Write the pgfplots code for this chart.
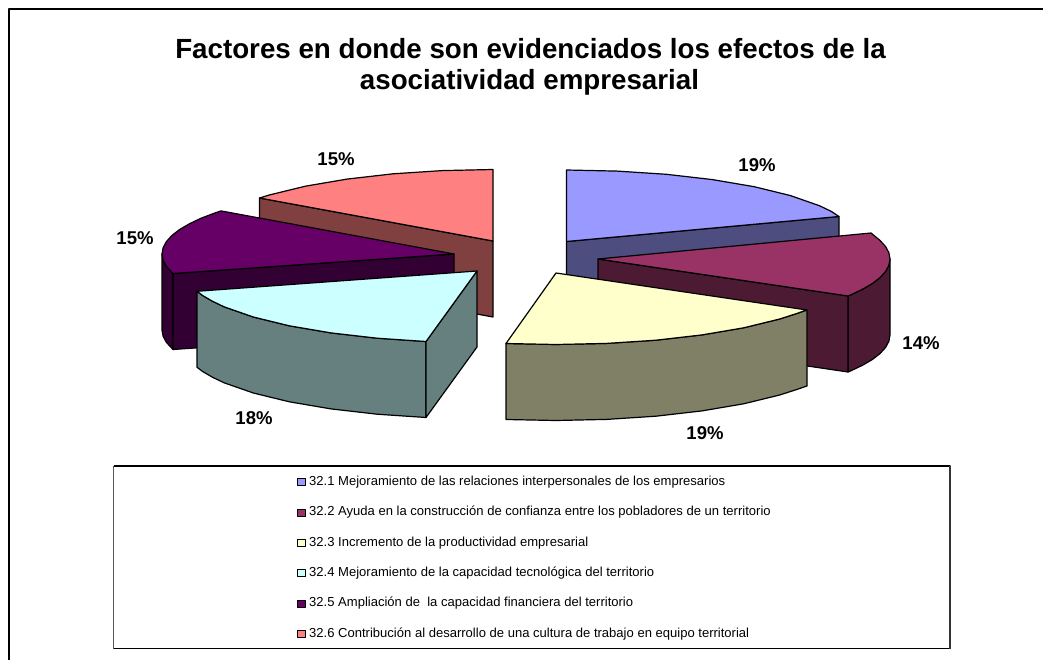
\documentclass[border=0pt]{standalone}
\usepackage{fontspec}
\setmainfont{Liberation Sans}
\usepackage{pgfplots}
\pgfplotsset{compat=1.18}
\definecolor{cA}{HTML}{9999FF}\definecolor{sA}{HTML}{4D4D80}
\definecolor{cB}{HTML}{993366}\definecolor{sB}{HTML}{4D1A33}
\definecolor{cC}{HTML}{FFFFCC}\definecolor{sC}{HTML}{808066}
\definecolor{cD}{HTML}{CCFFFF}\definecolor{sD}{HTML}{668080}
\definecolor{cE}{HTML}{660066}\definecolor{sE}{HTML}{330033}
\definecolor{cF}{HTML}{FF8080}\definecolor{sF}{HTML}{804040}
\begin{document}
\begin{tikzpicture}
\begin{axis}[
  scale only axis, width=782.25pt, height=495pt,
  xmin=0, xmax=1043, ymin=0, ymax=660, y dir=reverse,
  axis lines=none, clip=true,
  every axis plot/.append style={line width=0.9pt,line join=round},
  legend cell align=left,
  legend image code/.code={\draw[#1,draw=black,line width=0.75pt] (0pt,-2.7pt) rectangle (5.6pt,2.7pt);},
  legend style={at={(axis cs:297,476)},anchor=north west,draw=none,fill=none,inner sep=0pt,
    row sep=13.75pt,font=\fontsize{9.78pt}{11pt}\selectfont,
    nodes={inner sep=0pt,text height=7pt,text depth=2pt},/tikz/column 1/.style={column sep=2.6pt}},
]
\path (rel axis cs:0,0) rectangle (rel axis cs:1,1);
% outer frame
\addplot[forget plot,black,line width=1.5pt] coordinates {(9,660) (9,9) (1043,9)};
% legend box
\addplot[forget plot,black,line width=0.8pt] coordinates {(113.5,466) (950,466) (950,648.5) (113.5,648.5) (113.5,466)};
\addplot[forget plot,gray!70!black,line width=1.1pt] coordinates {(113.5,466) (113.5,648.5)};
\addplot[forget plot,gray!40!black,line width=1.1pt] coordinates {(950,466) (950,648.5)};
% 32.6 side
\addplot[forget plot,fill=sF,draw=black] coordinates {(259.5,198) (493,241) (493,317) (259.5,274)} --cycle;
% 32.1 side
\addplot[forget plot,fill=sA,draw=black] coordinates {(566.5,241.5) (839,216.5) (839,292.5) (566.5,317.5)} --cycle;
% 32.5 sides
\addplot[forget plot,fill=sE,draw=black] coordinates {(173,273.5) (166.4,266.4) (163.1,260.2) (162,254) (162,330) (163.1,336.2) (166.4,342.4) (173,349.5)} --cycle;
\addplot[forget plot,fill=sE,draw=black] coordinates {(173,273.5) (454,254) (454,330) (173,349.5)} --cycle;
% 32.2 sides
\addplot[forget plot,fill=sB,draw=black] coordinates {(890,259) (888.9,265.2) (885.6,271.4) (880.1,277.5) (872.4,283.5) (862.6,289.2) (850.9,294.8) (848,296) (848,372) (850.9,370.8) (862.6,365.2) (872.4,359.5) (880.1,353.5) (885.6,347.4) (888.9,341.2) (890,335)} --cycle;
\addplot[forget plot,fill=sB,draw=black] coordinates {(598,259) (848,296) (848,372) (598,335)} --cycle;
% 32.4 sides
\addplot[forget plot,fill=sD,draw=black] coordinates {(426,341.5) (377.1,338.2) (331,332.9) (289.3,325.8) (253.3,317) (224.1,306.8) (212.4,301.2) (202.6,295.5) (197,291.3) (197,367.3) (202.6,371.5) (212.4,377.2) (224.1,382.8) (253.3,393) (289.3,401.8) (331,408.9) (377.1,414.2) (426,417.5)} --cycle;
\addplot[forget plot,fill=sD,draw=black] coordinates {(426,341.5) (477,271) (477,347) (426,417.5)} --cycle;
% 32.3 side
\addplot[forget plot,fill=sC,draw=black] coordinates {(807,310) (795.2,314) (779.7,319) (743.7,327.8) (702,334.9) (655.9,340.2) (606.7,343.4) (556,344.5) (506,343.5) (506,419.5) (556,420.5) (606.7,419.4) (655.9,416.2) (702,410.9) (743.7,403.8) (779.7,395) (795.2,390) (807,386)} --cycle;
% top faces
\addplot[fill=cA,draw=black] coordinates {(566.5,241.5) (566.5,170) (617.2,171.1) (666.4,174.3) (712.5,179.6) (754.2,186.7) (790.2,195.5) (819.4,205.7) (831.1,211.3) (839,216.5)} --cycle;
\addlegendentry{32.1 Mejoramiento de las relaciones interpersonales de los empresarios}
\addplot[fill=cB,draw=black] coordinates {(598,259) (871,233) (880.1,240.5) (885.6,246.6) (888.9,252.8) (890,259) (888.9,265.2) (885.6,271.4) (880.1,277.5) (872.4,283.5) (862.6,289.2) (850.9,294.8) (848,296)} --cycle;
\addlegendentry{32.2 Ayuda en la construcción de confianza entre los pobladores de un territorio}
\addplot[fill=cC,draw=black] coordinates {(556,273) (807,310) (795.2,314) (779.7,319) (743.7,327.8) (702,334.9) (655.9,340.2) (606.7,343.4) (556,344.5) (506,343.5)} --cycle;
\addlegendentry{32.3 Incremento de la productividad empresarial}
\addplot[fill=cD,draw=black] coordinates {(477,271) (426,341.5) (377.1,338.2) (331,332.9) (289.3,325.8) (253.3,317) (224.1,306.8) (212.4,301.2) (202.6,295.5) (197,291.3)} --cycle;
\addlegendentry{32.4 Mejoramiento de la capacidad tecnológica del territorio}
\addplot[fill=cE,draw=black] coordinates {(454,254) (173,273.5) (166.4,266.4) (163.1,260.2) (162,254) (163.1,247.8) (166.4,241.6) (171.9,235.5) (179.6,229.5) (189.4,223.8) (201.1,218.2) (214.8,213) (221,210.9)} --cycle;
\addlegendentry{32.5 Ampliación de\ \ la capacidad financiera del territorio}
\addplot[fill=cF,draw=black] coordinates {(493,241) (259.5,198) (269.3,195) (305.3,186.2) (347,179.1) (393.1,173.8) (442.3,170.6) (493,169.5)} --cycle;
\addlegendentry{32.6 Contribución al desarrollo de una cultura de trabajo en equipo territorial}
% title and labels
\node[font=\fontsize{20.8pt}{24pt}\selectfont\bfseries,anchor=center] at (axis cs:530.5,49) {Factores en donde son evidenciados los efectos de la};
\node[font=\fontsize{20.8pt}{24pt}\selectfont\bfseries,anchor=center] at (axis cs:529.5,82.5) {asociatividad empresarial};
\tikzset{pct/.style={font=\fontsize{13.9pt}{16pt}\selectfont\bfseries,anchor=center}}
\node[pct] at (axis cs:757,165) {19\%};
\node[pct] at (axis cs:921,343) {14\%};
\node[pct] at (axis cs:705,433) {19\%};
\node[pct] at (axis cs:254,418) {18\%};
\node[pct] at (axis cs:135,238) {15\%};
\node[pct] at (axis cs:336,159) {15\%};
\end{axis}
\end{tikzpicture}
\end{document}
